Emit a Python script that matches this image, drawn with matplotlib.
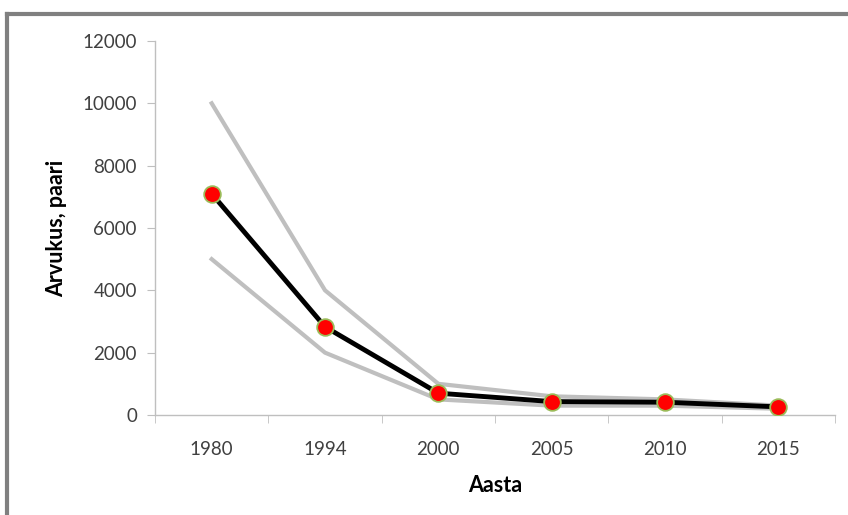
import numpy as np
import matplotlib.pyplot as plt
from matplotlib.lines import Line2D

# data
years = ['1980', '1994', '2000', '2005', '2010', '2015']
upper = [10000, 4000, 1000, 600, 500, 300]
lower = [5000, 2000, 500, 300, 300, 200]
mean = [7100, 2830, 700, 430, 410, 260]

plt.rcParams['font.family'] = ['Lato', 'DejaVu Sans']

fig = plt.figure(figsize=(8.48, 5.15), dpi=100)
ax = fig.add_axes([0.1828, 0.1942, 0.8019, 0.7262])

x = np.arange(len(years))
ax.plot(x, upper, color='#BFBFBF', lw=3, solid_joinstyle='miter')
ax.plot(x, lower, color='#BFBFBF', lw=3, solid_joinstyle='miter')
ax.plot(x, mean, color='black', lw=3.5, marker='o', markersize=12,
        markerfacecolor='#FF0000', markeredgecolor='#9BBB59', markeredgewidth=1.3,
        zorder=5)

ax.set_xlim(-0.5, len(years) - 0.5)
ax.set_ylim(0, 12000)
ax.set_yticks(np.arange(0, 12001, 2000))
ax.set_xticks(x)
ax.set_xticklabels(years)
ax.set_xticks(np.arange(-0.5, len(years)), minor=True)
ax.tick_params(axis='x', which='major', length=0, pad=19, labelsize=13.5, labelcolor='#404040')
ax.tick_params(axis='x', which='minor', length=6, color='#BFBFBF', direction='out')
ax.tick_params(axis='y', length=6, color='#BFBFBF', pad=7, labelsize=13.5, labelcolor='#404040')

for s in ['top', 'right']:
    ax.spines[s].set_visible(False)
for s in ['left', 'bottom']:
    ax.spines[s].set_color('#BFBFBF')
    ax.spines[s].set_linewidth(1)

ax.set_xlabel('Aasta', fontsize=15.5, fontweight='bold', labelpad=12)
ax.set_ylabel('Arvukus, paari', fontsize=15.5, fontweight='bold', labelpad=11)

# gray chart border (only top and left visible)
fig.lines.append(Line2D([0.0083, 1.0], [0.9728, 0.9728], transform=fig.transFigure,
                        color='#808080', lw=3))
fig.lines.append(Line2D([0.0083, 0.0083], [0.0, 0.9728], transform=fig.transFigure,
                        color='#808080', lw=3))

fig.savefig('out.png', dpi=100)
